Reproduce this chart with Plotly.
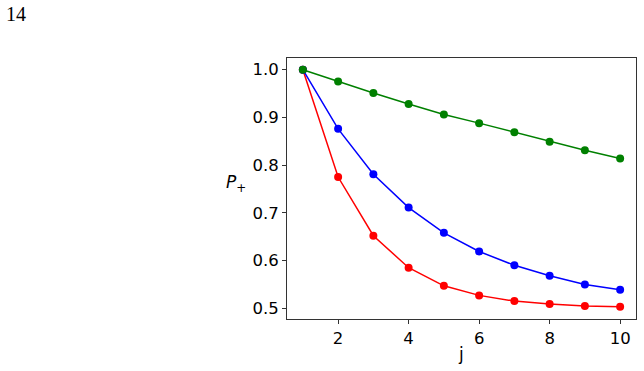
import plotly.graph_objects as go

j = [1, 2, 3, 4, 5, 6, 7, 8, 9, 10]
p_red = [1.0, 0.775, 0.652, 0.585, 0.547, 0.527, 0.515, 0.509, 0.505, 0.503]
p_blue = [1.0, 0.876, 0.781, 0.711, 0.658, 0.619, 0.590, 0.568, 0.550, 0.539]
p_green = [1.0, 0.975, 0.951, 0.928, 0.906, 0.888, 0.869, 0.849, 0.831, 0.814]
x_ticks = [2, 4, 6, 8, 10]
y_ticks = [0.5, 0.6, 0.7, 0.8, 0.9, 1.0]
y_tick_labels = ["0.5", "0.6", "0.7", "0.8", "0.9", "1.0"]

fig = go.Figure()
for vals, col in [(p_red, "#ff0000"), (p_blue, "#0000ff"), (p_green, "#008000")]:
    fig.add_trace(go.Scatter(
        x=j, y=vals, mode="lines+markers",
        line=dict(color=col, width=1.5),
        marker=dict(color=col, size=8),
        showlegend=False,
    ))

axis_common = dict(
    showgrid=False, zeroline=False, showline=True, mirror=True,
    linecolor="#333333", linewidth=1, ticks="outside", ticklen=4,
    tickwidth=1, tickcolor="#333333",
    tickfont=dict(family="DejaVu Sans", size=16.5, color="black"),
)
fig.update_xaxes(range=[0.55, 10.45], tickvals=x_ticks, **axis_common)
fig.update_yaxes(range=[0.4775, 1.0245], tickvals=y_ticks, ticktext=y_tick_labels, **axis_common)

fig.update_layout(
    width=644, height=371,
    margin=dict(l=287, r=8, t=58, b=52),
    paper_bgcolor="white", plot_bgcolor="white",
    annotations=[
        dict(text="<i>P</i><sub>+</sub>", xref="paper", yref="paper",
             x=-0.146, y=0.52, xanchor="center", yanchor="middle", showarrow=False,
             font=dict(family="DejaVu Sans", size=17, color="black")),
        dict(text="j", xref="paper", yref="paper", x=0.499, y=-0.135,
             xanchor="center", yanchor="middle",
             showarrow=False, font=dict(family="DejaVu Sans", size=17, color="black")),
        dict(text="14", xref="paper", yref="paper", x=-0.81, y=1.17,
             xanchor="left", yanchor="middle", showarrow=False,
             font=dict(family="Liberation Serif", size=20, color="black")),
    ],
)
fig.write_html("out.html")
